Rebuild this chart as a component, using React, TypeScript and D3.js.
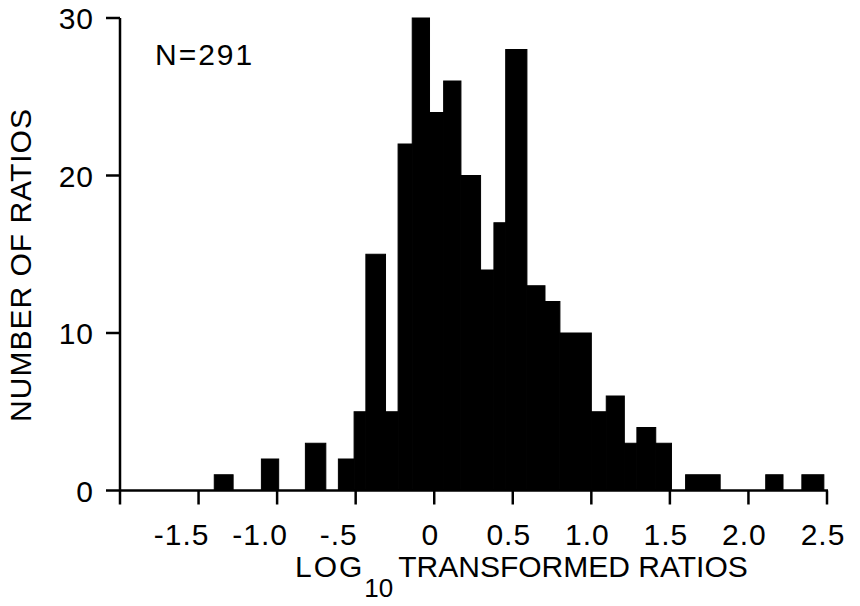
import React from "react";
import * as d3 from "d3";

// bins (hand-drawn, so widths are uneven)
const binLo = [-1.4, -1.1, -0.82, -0.61, -0.51, -0.435, -0.31, -0.23, -0.14, -0.03, 0.06, 0.17, 0.295, 0.38, 0.455, 0.59, 0.705, 0.8, 1.0, 1.095, 1.21, 1.29, 1.41, 1.6, 2.11, 2.34];
const binHi = [-1.28, -0.99, -0.69, -0.51, -0.435, -0.31, -0.23, -0.14, -0.03, 0.06, 0.17, 0.295, 0.38, 0.455, 0.59, 0.705, 0.8, 1.0, 1.095, 1.21, 1.29, 1.41, 1.51, 1.82, 2.22, 2.48];
const counts = [1, 2, 3, 2, 5, 15, 5, 22, 30, 24, 26, 20, 14, 17, 28, 13, 12, 10, 5, 6, 3, 4, 3, 1, 1, 1];

const xTicks = [-1.5, -1.0, -0.5, 0, 0.5, 1.0, 1.5, 2.0, 2.5];
const xTickLabels = ["-1.5", "-1.0", "-.5", "0", "0.5", "1.0", "1.5", "2.0", "2.5"];
const yTicks = [0, 10, 20, 30];

const W = 860;
const H = 606;
const font = "'Liberation Sans', Arial, sans-serif";

export default function App() {
  const x = d3.scaleLinear().domain([-2, 2.5]).range([120, 827]);
  const y = d3.scaleLinear().domain([0, 30]).range([490.5, 18]);
  const x0 = x(-2);
  const y0 = y(0);

  return (
    <div style={{ position: "fixed", left: 0, top: 0 }}>
      <svg width={W} height={H} style={{ display: "block", background: "#fff" }}>
        {/* bars - stroked so neighbours merge into one solid mass */}
        <g fill="#000" stroke="#000" strokeWidth={1}>
          {counts.map((c, i) => (
            <rect
              key={i}
              x={x(binLo[i])}
              y={y(c)}
              width={x(binHi[i]) - x(binLo[i])}
              height={y0 - y(c)}
            />
          ))}
        </g>

        {/* axes */}
        <g stroke="#000" strokeWidth={2.5} fill="none">
          <line x1={x0} x2={x(2.5) + 1} y1={y0} y2={y0} />
          <line x1={x0} x2={x0} y1={y(30)} y2={y0 + 14} />
          {xTicks.map((t) => (
            <line key={t} x1={x(t)} x2={x(t)} y1={y0} y2={y0 + 14} />
          ))}
          {yTicks.map((t) => (
            <line key={t} x1={x0 - 14} x2={x0} y1={y(t)} y2={y(t)} />
          ))}
        </g>

        {/* tick labels */}
        <g fontFamily={font} fontSize={30} fill="#000">
          {xTicks.map((t, i) => (
            <text
              key={t}
              x={x(t) + (t < 0 ? -17 : -4)}
              y={545}
              textAnchor="middle"
              letterSpacing={1}
            >
              {xTickLabels[i]}
            </text>
          ))}
          {yTicks.map((t) => (
            <text key={t} x={94} y={y(t) + 11} textAnchor="end" letterSpacing={1}>
              {t}
            </text>
          ))}
        </g>

        {/* annotation */}
        <text x={155} y={65} fontFamily={font} fontSize={30} letterSpacing={2} fill="#000">
          N=291
        </text>

        {/* axis titles */}
        <text
          transform={`translate(31,265) rotate(-90)`}
          textAnchor="middle"
          fontFamily={font}
          fontSize={30}
          letterSpacing={1}
          fill="#000"
        >
          NUMBER OF RATIOS
        </text>
        <text x={295} y={577} fontFamily={font} fontSize={30} fill="#000">
          <tspan letterSpacing={2}>LOG</tspan>
          <tspan dy={20} fontSize={26}>10</tspan>
          <tspan dy={-20} dx={5}>TRANSFORMED RATIOS</tspan>
        </text>
      </svg>
    </div>
  );
}
